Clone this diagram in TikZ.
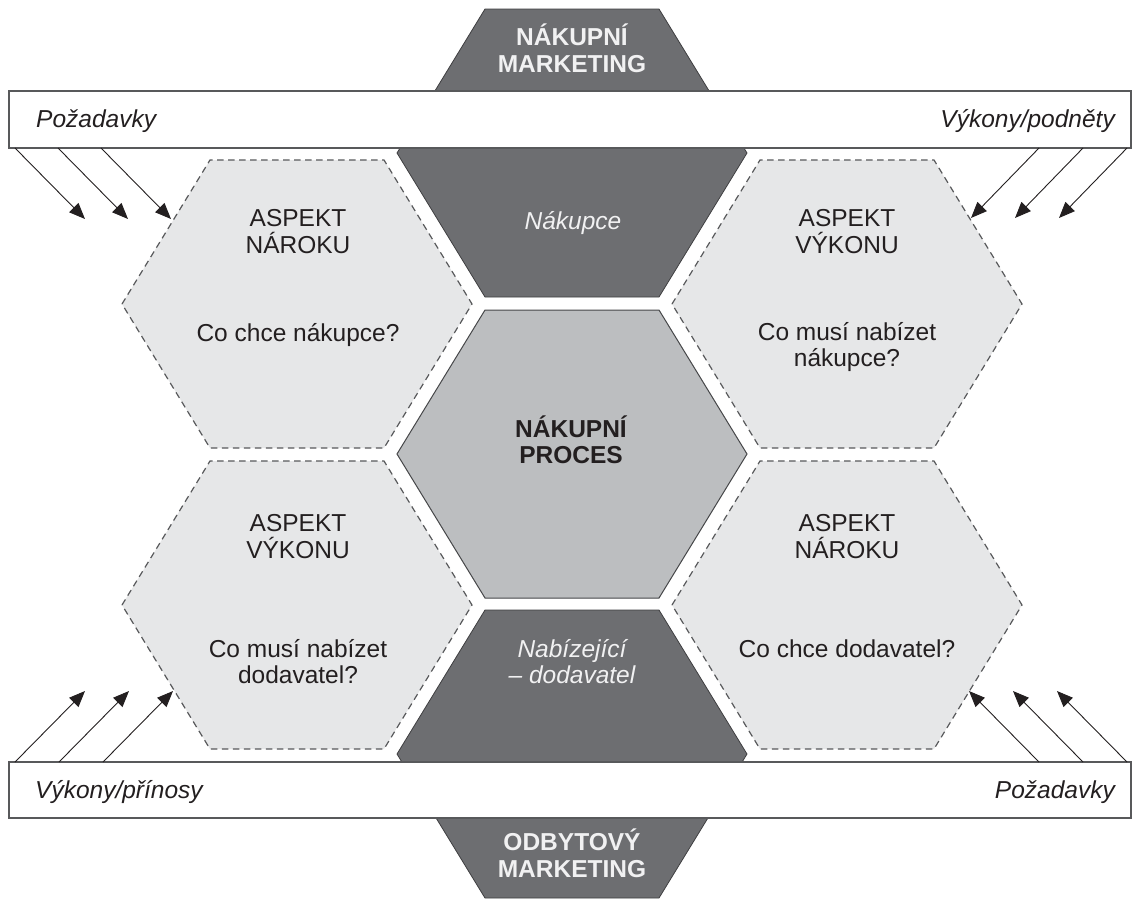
\documentclass[tikz,border=0pt]{standalone}
\usepackage{fontspec}
\setmainfont{Liberation Sans}
\usetikzlibrary{arrows.meta}
\definecolor{inkdark}{HTML}{231F20}
\definecolor{hexlight}{HTML}{E6E7E8}
\definecolor{hexmid}{HTML}{BCBEC0}
\definecolor{hexdark}{HTML}{6D6E71}
\definecolor{rimgray}{HTML}{58595B}
\definecolor{paletext}{HTML}{F1F1F2}
\begin{document}
\begin{tikzpicture}[x=1pt,y=-1pt,
  hexa/.pic={\path[pic actions] (-175,0) -- (-87,-144) -- (87,-144) -- (175,0) -- (87,144) -- (-87,144) -- cycle;},
  aspecthex/.style={fill=hexlight,draw=rimgray,line width=1.2pt,dash pattern=on 6.5pt off 4.5pt},
  corehex/.style={fill=hexmid,draw=rimgray!80!black,line width=1pt},
  darkhex/.style={fill=hexdark,draw=rimgray!70!black,line width=0.8pt},
  band/.style={fill=white,draw=rimgray,line width=1.3pt,inner sep=0pt,outer sep=0pt},
  txt/.style={anchor=base,inner sep=0pt,font=\fontsize{24.5}{27}\selectfont,text=inkdark},
  bandtxt/.style={txt,font=\fontsize{24.5}{27}\selectfont\itshape},
  titletxt/.style={txt,font=\fontsize{24.5}{27}\selectfont\bfseries,text=paletext},
  roletxt/.style={txt,font=\fontsize{24.5}{27}\selectfont\itshape,text=paletext},
  coretxt/.style={txt,font=\fontsize{24.5}{27}\selectfont\bfseries},
  flow/.style={draw=inkdark,line width=0.9pt,-{Triangle[length=16pt,width=13pt]}}
]
\useasboundingbox (0,0) rectangle (1133,898);

% dark hexagons of the central column (partly hidden by the bands)
\pic[darkhex] (buyhex) at (572,153) {hexa};
\pic[darkhex] (sellhex) at (572,754) {hexa};
% central hexagon
\pic[corehex] (prochex) at (572,454) {hexa};
% four aspect hexagons
\pic[aspecthex] (tlhex) at (297,304) {hexa};
\pic[aspecthex] (trhex) at (847,304) {hexa};
\pic[aspecthex] (blhex) at (297,605) {hexa};
\pic[aspecthex] (brhex) at (847,605) {hexa};

% horizontal bands
\node[band,anchor=north west,minimum width=1122pt,minimum height=57pt] (topbar) at (9,91) {};
\node[band,anchor=north west,minimum width=1122pt,minimum height=56pt] (botbar) at (9,762) {};

% band labels
\node[bandtxt,anchor=base west] (reqtl) at (36,127) {Požadavky};
\node[bandtxt,anchor=base east] (perftr) at (1115,127) {Výkony/podněty};
\node[bandtxt,anchor=base west] (perfbl) at (35,798) {Výkony/přínosy};
\node[bandtxt,anchor=base east] (reqbr) at (1115,798) {Požadavky};

% marketing titles
\node[titletxt] (bmk1) at (572,45) {NÁKUPNÍ};
\node[titletxt] (bmk2) at (572,72) {MARKETING};
\node[titletxt] (smk1) at (572,850) {ODBYTOVÝ};
\node[titletxt] (smk2) at (572,877) {MARKETING};

% roles
\node[roletxt] (buyer) at (573,229) {Nákupce};
\node[roletxt] (sell1) at (572,657) {Nabízející};
\node[roletxt] (sell2) at (572,683) {– dodavatel};

% core
\node[coretxt] (core1) at (571,437) {NÁKUPNÍ};
\node[coretxt] (core2) at (571,463) {PROCES};

% aspect texts
\node[txt] (tla) at (298,226) {ASPEKT};
\node[txt] (tlb) at (298,253) {NÁROKU};
\node[txt] (tlq) at (298,341) {Co chce nákupce?};

\node[txt] (tra) at (847,226) {ASPEKT};
\node[txt] (trb) at (847,253) {VÝKONU};
\node[txt] (trq1) at (847,340) {Co musí nabízet};
\node[txt] (trq2) at (847,366) {nákupce?};

\node[txt] (bla) at (298,531) {ASPEKT};
\node[txt] (blb) at (298,558) {VÝKONU};
\node[txt] (blq1) at (298,657) {Co musí nabízet};
\node[txt] (blq2) at (298,683) {dodavatel?};

\node[txt] (bra) at (847,531) {ASPEKT};
\node[txt] (brb) at (847,558) {NÁROKU};
\node[txt] (brq) at (847,657) {Co chce dodavatel?};

% arrow end points
\coordinate (tl1s) at (15,148);  \coordinate (tl1e) at (85,219);
\coordinate (tl2s) at (58,148);  \coordinate (tl2e) at (128,219);
\coordinate (tl3s) at (101,148); \coordinate (tl3e) at (171,219);
\coordinate (tr1s) at (1039,148); \coordinate (tr1e) at (971,218);
\coordinate (tr2s) at (1083,148); \coordinate (tr2e) at (1015,218);
\coordinate (tr3s) at (1127,148); \coordinate (tr3e) at (1059,218);
\coordinate (bl1s) at (15,762);  \coordinate (bl1e) at (85,691);
\coordinate (bl2s) at (59,762);  \coordinate (bl2e) at (129,691);
\coordinate (bl3s) at (103,762); \coordinate (bl3e) at (173,691);
\coordinate (br1s) at (1039,762); \coordinate (br1e) at (969,691);
\coordinate (br2s) at (1083,762); \coordinate (br2e) at (1013,691);
\coordinate (br3s) at (1127,762); \coordinate (br3e) at (1057,691);

\foreach \g in {tl,tr,bl,br}{
  \foreach \i in {1,2,3}{
    \draw[flow] (\g\i s) -- (\g\i e);
  }
}
\end{tikzpicture}
\end{document}
